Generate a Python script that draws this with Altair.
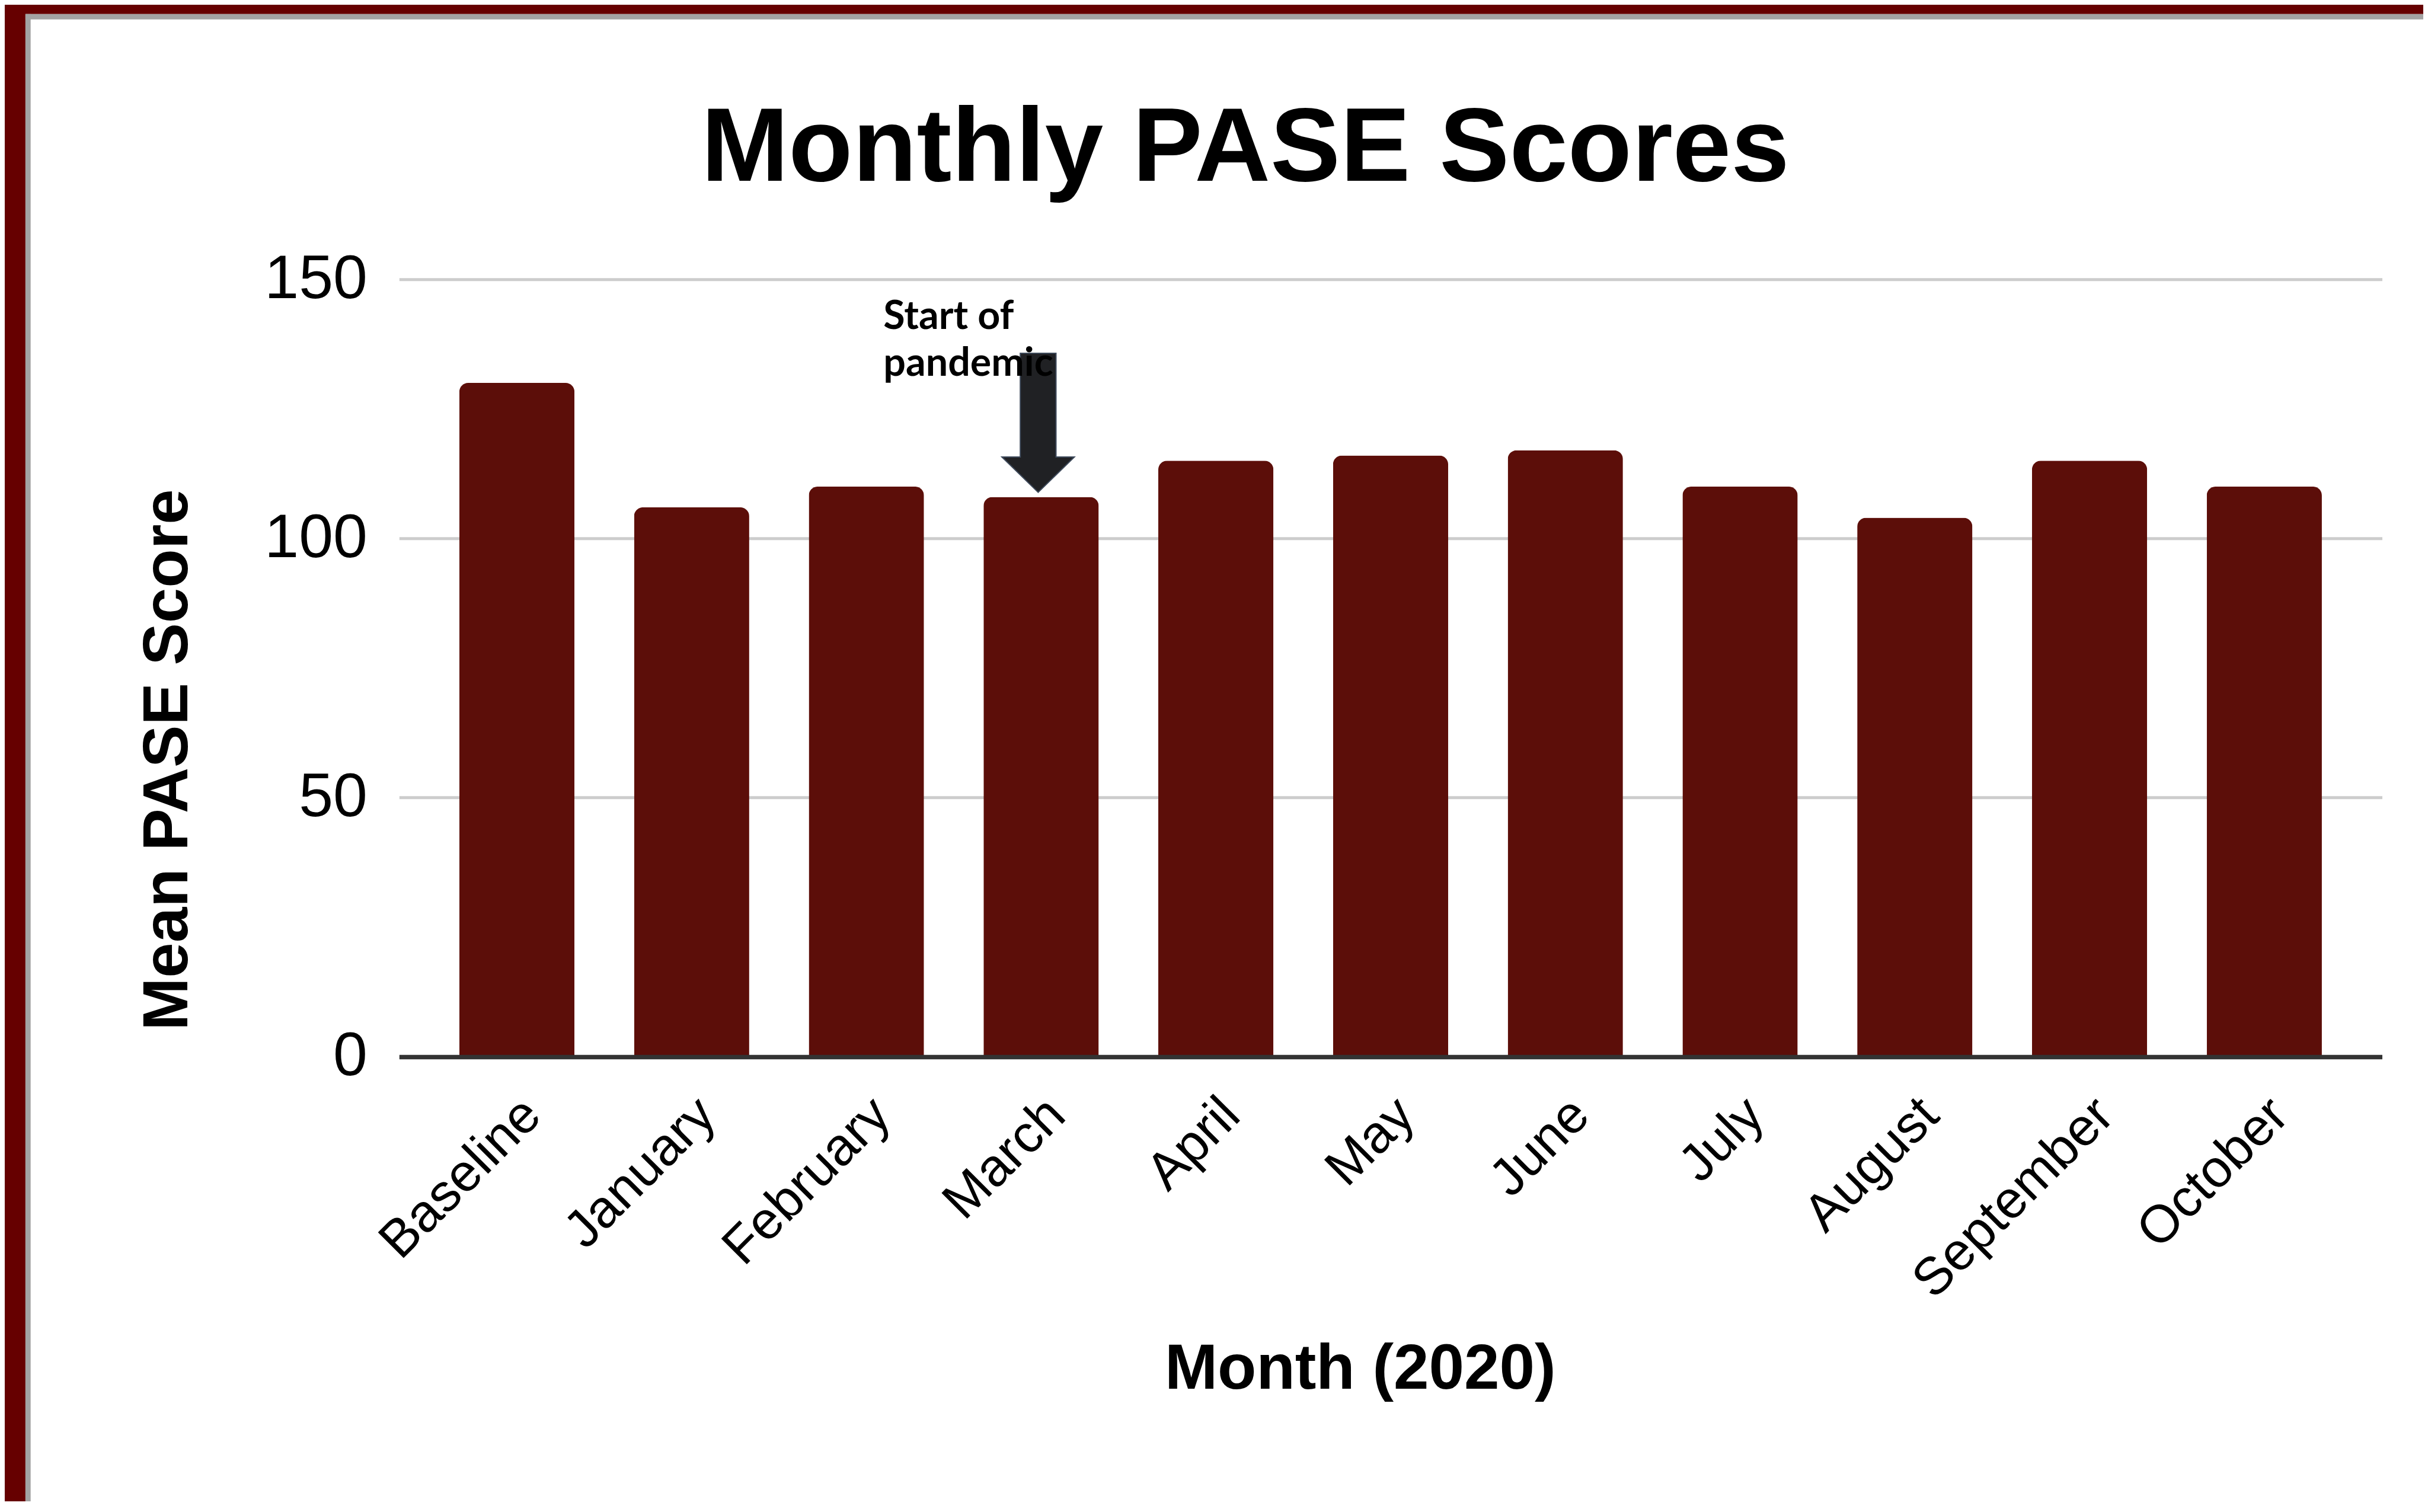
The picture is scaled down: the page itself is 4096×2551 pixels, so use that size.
import altair as alt
import pandas as pd

# ---- data -------------------------------------------------------------
months = ["Baseline", "January", "February", "March", "April", "May",
          "June", "July", "August", "September", "October"]
scores = [130, 106, 110, 108, 115, 116, 117, 110, 104, 115, 110]

annot_month = ["March"]
annot_text = ["Start of\npandemic"]
annot_text_y = [140.4]      # baseline of first line, in score units
arrow_tip_y = [108.9]       # arrow tip, in score units

title_text = "Monthly PASE Scores"
y_title = "Mean PASE Score"
x_title = "Month (2020)"
y_ticks = [0, 50, 100, 150]

df = pd.DataFrame({"month": months, "score": scores})
annot = pd.DataFrame({"month": annot_month, "label": annot_text,
                      "ty": annot_text_y, "tip": arrow_tip_y})

# ---- layout (output pixels) ------------------------------------------
W, H = 3345.2, 1311.7
PAD_L, PAD_T, PAD_R, PAD_B = 665.3, 463.2, 69.5, 750
FONT = "Liberation Sans"
BAR = "#5c0e09"

x_enc = alt.X("month:N", sort=months,
              scale=alt.Scale(paddingInner=0.341, paddingOuter=0.3445),
              axis=alt.Axis(title=x_title, labelAngle=-45, labelAlign="right",
                            labelBaseline="middle", labelFont=FONT,
                            labelFontSize=89, labelColor="#000000",
                            labelPadding=84, labelOffset=26, labelLimit=0,
                            ticks=False, grid=False,
                            domain=True, domainColor="#333333", domainWidth=7.5,
                            titleFont=FONT, titleFontSize=107,
                            titleFontWeight="bold", titleColor="#000000",
                            titleX=1621, titleY=559.7, titleAlign="center",
                            titleBaseline="alphabetic", titleAngle=0,
                            zindex=1))
y_scale = alt.Scale(domain=[0, 150], nice=False, zero=True)
y_enc = alt.Y("score:Q", scale=y_scale,
              axis=alt.Axis(title=y_title, values=y_ticks, grid=True,
                            gridColor="#cccccc", gridWidth=5,
                            domain=False, ticks=False, labelLimit=0,
                            labelFont=FONT, labelFontSize=104,
                            labelColor="#000000", labelPadding=54,
                            titleFont=FONT, titleFontSize=107,
                            titleFontWeight="bold", titleColor="#000000",
                            titleAngle=270, titleX=-390, titleY=810.3,
                            titleAlign="center", titleBaseline="middle"))

bars = alt.Chart(df).mark_bar(
    color=BAR, cornerRadiusTopLeft=15, cornerRadiusTopRight=15
).encode(x=x_enc, y=y_enc)

# arrow (custom symbol, tip at origin)
arrow_path = ("M0,0 L-1,-0.975 L-0.493,-0.975 L-0.493,-3.836 "
              "L0.493,-3.836 L0.493,-0.975 L1,-0.975 Z")
arrow = alt.Chart(annot).mark_point(
    shape=arrow_path, size=14957, filled=True, fill="#202124",
    stroke="#3e4a5b", strokeWidth=2, opacity=1, xOffset=-5
).encode(x=alt.X("month:N", sort=months), y=alt.Y("tip:Q"))

label = alt.Chart(annot).mark_text(
    align="left", baseline="alphabetic", font="Lato", fontWeight="bold",
    fontSize=66.4, lineHeight=78.9, lineBreak="\n", dx=-266, color="#000000"
).encode(x=alt.X("month:N", sort=months), y=alt.Y("ty:Q"), text="label:N")

# decorative slide frame (maroon border with grey shadow)
one = pd.DataFrame({"k": [0]})
def band(x1, x2, y1, y2, color):
    return alt.Chart(one).mark_rect(color=color, opacity=1).encode(
        x=alt.value(x1), x2=alt.value(x2), y=alt.value(y1), y2=alt.value(y2))

right_edge = W + PAD_R
bottom_edge = H + PAD_B
frame = (
    band(-PAD_L, right_edge, -PAD_T, -447.4, "#660000")
    + band(-PAD_L, -630.4, -PAD_T, bottom_edge, "#660000")
    + band(-630.4, right_edge, -447.4, -438.4, "#a3a3a3")
    + band(-630.4, -621.6, -447.4, bottom_edge, "#a3a3a3")
)

chart = alt.layer(frame, bars, arrow, label).properties(
    width=W, height=H,
    padding={"left": PAD_L, "top": PAD_T, "right": PAD_R, "bottom": PAD_B},
    autosize=alt.AutoSizeParams(type="none"),
    background="white",
    title=alt.TitleParams(title_text, font=FONT, fontSize=177,
                          fontWeight="bold", color="#000000",
                          anchor="middle", frame="group",
                          baseline="alphabetic", offset=0,
                          dx=-245.1, dy=474),
).configure_view(stroke=None)

chart.save("out.html", embed_options={"renderer": "svg", "actions": False})
